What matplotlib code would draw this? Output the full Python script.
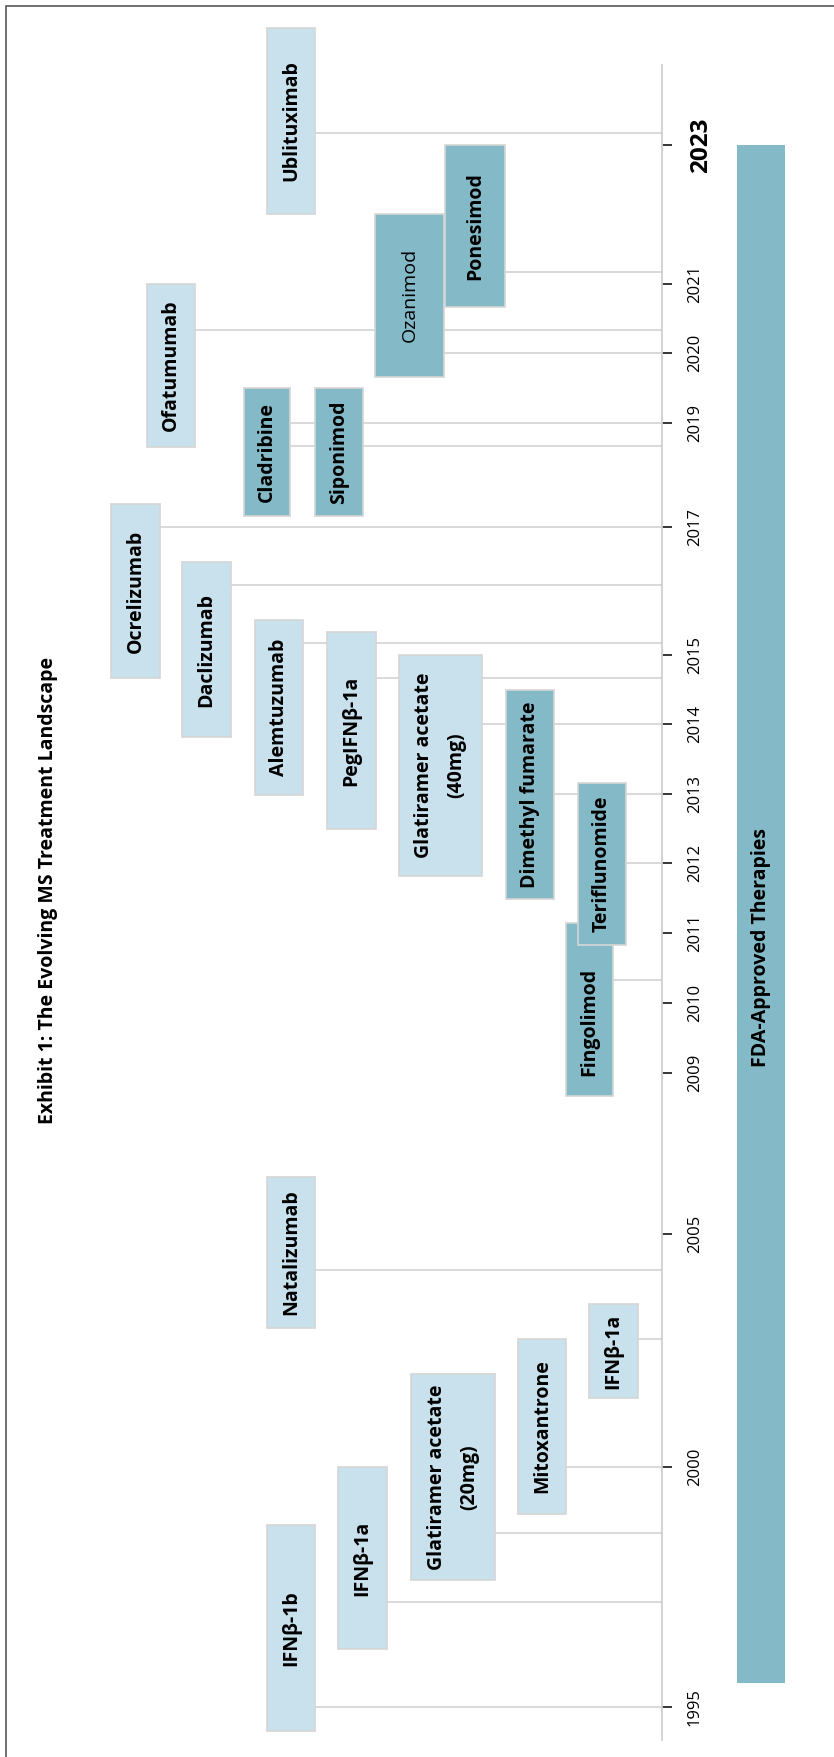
import numpy as np
import matplotlib
matplotlib.use("Agg")
import matplotlib.pyplot as plt
from matplotlib.patches import Rectangle

plt.rcParams['font.family'] = ['Open Sans', 'DejaVu Sans']

# ---- data ----
drugs = ["IFNβ-1b", "IFNβ-1a", "Glatiramer acetate\n(20mg)", "Mitoxantrone", "IFNβ-1a",
         "Natalizumab", "Fingolimod", "Teriflunomide", "Dimethyl fumarate",
         "Glatiramer acetate\n(40mg)", "PegIFNβ-1a", "Alemtuzumab", "Daclizumab",
         "Ocrelizumab", "Cladribine", "Siponimod", "Ofatumumab", "Ozanimod",
         "Ponesimod", "Ublituximab"]
approval = [1995.0, 1997.19, 1998.63, 2000.0, 2002.75, 2004.23, 2010.33, 2012.0, 2013.0,
            2014.0, 2014.67, 2015.19, 2016.09, 2017.0, 2019.0, 2018.56, 2020.33, 2020.0,
            2021.17, 2023.17]
oral = [0, 0, 0, 0, 0, 0, 1, 1, 1, 0, 0, 0, 0, 0, 1, 1, 0, 1, 1, 0]
plain_label = [0, 0, 0, 0, 0, 0, 0, 0, 0, 0, 0, 0, 0, 0, 0, 0, 0, 1, 0, 0]

tick_years = [1995, 2000, 2005, 2009, 2010, 2011, 2012, 2013, 2014, 2015, 2017, 2019, 2020, 2021, 2023]
era_start, era_end = 1995.5, 2023.0
era_label = "FDA-Approved Therapies"
title = "Exhibit 1: The Evolving MS Treatment Landscape"

# ---- layout (pixels / year spans of the boxes) ----
W, H = 834, 1757
# the timeline is not evenly spaced: pixel row (from top) of each tick year
tick_px = [1707, 1467, 1234, 1073, 1003, 933, 863, 794, 724, 655, 527, 423, 353, 284, 145]
box_left = [267, 338, 411, 518, 589, 267, 566, 578, 506, 399, 327, 255, 182, 111, 244, 315,
            147, 375, 445, 267]
box_right = [315, 387, 495, 566, 638, 315, 613, 626, 554, 482, 376, 303, 231, 160, 290, 363,
             195, 444, 505, 315]
box_top = [1998.79, 2000.0, 2002.0, 2002.75, 2003.5, 2006.42, 2011.14, 2013.16, 2014.49,
           2015.0, 2015.36, 2015.55, 2016.45, 2017.44, 2019.5, 2019.5, 2021.0, 2022.01,
           2023.0, 2024.68]
box_bottom = [1994.5, 1996.21, 1997.65, 1999.02, 2001.48, 2002.98, 2008.43, 2010.83, 2011.49,
              2011.81, 2012.49, 2012.99, 2013.81, 2014.67, 2017.21, 2017.21, 2018.54, 2019.66,
              2020.67, 2022.01]
# connector start (the Siponimod line runs from the Cladribine box)
line_start = list(box_right)
line_start[15] = box_right[14]
# Fingolimod's name sits in the part not hidden by Teriflunomide
label_at = {6: 2009.73}
axis_x = 662
axis_span = (1994.31, 2024.15)

light = '#c8e1ec'
teal = '#84bac8'
grey = '#d3d3d3'

yrs = np.array([1985] + tick_years + [2033], dtype=float)
pxs = np.array([tick_px[0] + 10 * 48] + tick_px + [tick_px[-1] - 10 * 69.5], dtype=float)
up = H - pxs  # increasing with year


def fwd(y):
    return np.interp(y, yrs, up)


def inv(v):
    return np.interp(v, up, yrs)


fig = plt.figure(figsize=(W / 100, H / 100), dpi=100)
ax = fig.add_axes([0, 0, 1, 1])
ax.set_yscale('function', functions=(fwd, inv))
ax.set_xlim(0, W)
ax.set_ylim(inv(0), inv(H))
ax.patch.set_alpha(0)

# timeline axis
for s in ['left', 'top', 'bottom']:
    ax.spines[s].set_visible(False)
ax.spines['right'].set_position(('data', axis_x))
ax.spines['right'].set_bounds(*axis_span)
ax.spines['right'].set_color('#d0d0d0')
ax.spines['right'].set_linewidth(1.3)
ax.yaxis.tick_right()
ax.set_yticks(tick_years)
ax.yaxis.set_minor_locator(matplotlib.ticker.NullLocator())
ax.tick_params(axis='y', direction='out', length=7, width=1.1, color='black', labelright=False)
ax.set_xticks([])

for yr in tick_years:
    if yr == tick_years[-1]:
        ax.text(701, yr, str(yr), rotation=90, ha='center', va='center', fontsize=17.5,
                fontweight='bold')
    else:
        ax.text(695, yr, str(yr), rotation=90, ha='center', va='center', fontsize=12)

# connectors
ax.hlines(approval, line_start, axis_x, color=grey, lw=1.2, zorder=1)

# boxes and names
for i, name in enumerate(drugs):
    ax.add_patch(Rectangle((box_left[i], box_bottom[i]), box_right[i] - box_left[i],
                           box_top[i] - box_bottom[i], facecolor=teal if oral[i] else light,
                           edgecolor='#d5d5d5', lw=1.2, zorder=2 + 0.02 * i))
    ymid = label_at.get(i, inv((fwd(box_top[i]) + fwd(box_bottom[i])) / 2))
    ax.text((box_left[i] + box_right[i]) / 2, ymid, name, rotation=90, ha='center',
            va='center', fontsize=14, fontweight='normal' if plain_label[i] else 'bold',
            linespacing=1.8, multialignment='center', zorder=2.01 + 0.02 * i)

# FDA era bar
ax.add_patch(Rectangle((737, era_start), 48, era_end - era_start, facecolor=teal,
                       edgecolor='none', zorder=2))
ax.text(761, 2010.79, era_label, rotation=90, ha='center', va='center', fontsize=14,
        fontweight='bold', zorder=3)

fig.text(48 / W, 1 - 890 / H, title, rotation=90, ha='center', va='center', fontsize=14,
         fontweight='bold')

fig.add_artist(Rectangle((6 / W, -0.05), 1.2, 1.05 - 6 / H, transform=fig.transFigure,
                         fill=False, edgecolor='#4a4a4a', lw=1.1))

fig.savefig('out.png', dpi=100)
